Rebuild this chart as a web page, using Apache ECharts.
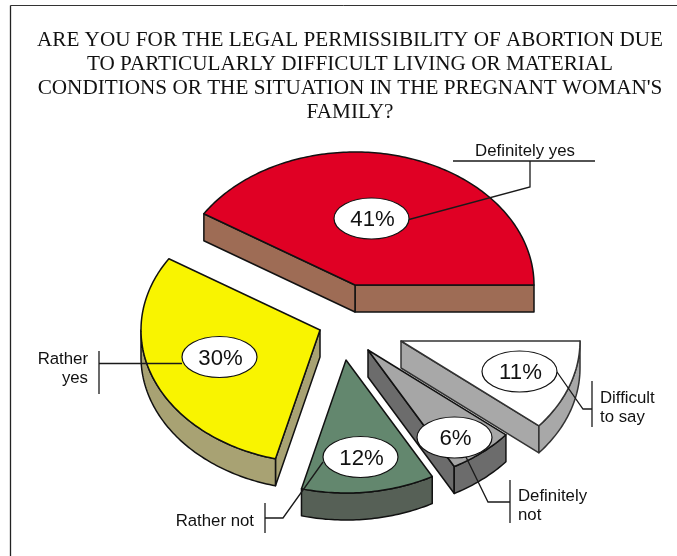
<!DOCTYPE html>
<html>
<head>
<meta charset="utf-8">
<style>html,body{margin:0;padding:0;background:#fff}#c{width:677px;height:556px}</style>
<script src="https://cdn.jsdelivr.net/npm/echarts@6/dist/echarts.min.js"></script>
</head>
<body>
<div id="c"></div>
<script>
// ---- data ----
var titleText = "ARE YOU FOR THE LEGAL PERMISSIBILITY OF ABORTION DUE\nTO PARTICULARLY DIFFICULT LIVING OR MATERIAL\nCONDITIONS OR THE SITUATION IN THE PREGNANT WOMAN'S\nFAMILY?";
var categories = ["Definitely yes", "Rather\nyes", "Rather not", "Definitely\nnot", "Difficult\nto say"];
var shares = [41, 30, 12, 6, 11];

// ---- presentation (positions, sizes, styles) ----
var topColors  = ["#e00024", "#f9f400", "#63876e", "#a6a6a6", "#ffffff"];
var sideColors = ["#9e6c55", "#a8a273", "#566056", "#6c6c6c", "#a8a8a8"];
var edgeColors = ["#111", "#111", "#111", "#111", "#333"];
var apex = [[355,285],[320,330],[346,360],[368,350],[401,341]];
var drawOrder = [1, 3, 5, 4, 2];
var RX = 179, RY = 133, DEPTH = 27;
var bubbles = [[371.5,218.5],[219.5,357],[360.5,457],[454.5,437.5],[519.5,371.5]];
var leaders = [
  [[453,161],[595,161]],
  [[99,351],[99,394]],
  [[265,503],[265,533]],
  [[510,480],[510,523]],
  [[592,381],[592,427]]
];
var connectors = [
  [[530,161],[530,187],[409,219.5]],
  [[99,363.5],[182,363.5]],
  [[265,518],[283,518],[323,462]],
  [[510,502],[488,502],[465,455]],
  [[592,409],[583,409],[557,372]]
];
var nameAnchors = [
  [525,151,"center"],
  [88,369,"right"],
  [254,521,"right"],
  [518,506,"left"],
  [600,408,"left"]
];

var total = shares.reduce(function(a,b){return a+b;},0);
function startAngle(i){
  var s = 0;
  for (var k=0;k<i;k++) s += shares[k];
  return s/total*360;
}
function pt(c,deg,dy){
  var a = deg*Math.PI/180;
  return [c[0]+RX*Math.cos(a), c[1]-RY*Math.sin(a)+(dy||0)];
}
function arcPts(c,a0,a1,dy){
  var out=[], n=Math.max(2,Math.ceil((a1-a0)));
  for (var i=0;i<=n;i++) out.push(pt(c,a0+(a1-a0)*i/n,dy));
  return out;
}
function renderSlice(params, api){
  var i = params.dataIndex;
  var a0 = startAngle(i), a1 = a0 + api.value(0)/total*360;
  var c = apex[i];
  var z = drawOrder[i]*10;
  var kids = [];
  var st = {fill:sideColors[i], stroke:edgeColors[i], lineWidth:1.5, lineJoin:'round'};
  function wall(deg){
    var p = pt(c,deg);
    kids.push({type:'polygon',z2:z,shape:{points:[c,p,[p[0],p[1]+DEPTH],[c[0],c[1]+DEPTH]]},style:st});
  }
  if (Math.cos(a0*Math.PI/180) > 0) wall(a0);
  if (Math.cos(a1*Math.PI/180) < 0) wall(a1);
  var lo = Math.max(a0,180), hi = Math.min(a1,360);
  if (hi > lo){
    var upper = arcPts(c,lo,hi,0), lower = arcPts(c,lo,hi,DEPTH).reverse();
    kids.push({type:'polygon',z2:z+1,shape:{points:upper.concat(lower)},style:st});
  }
  var top = [c].concat(arcPts(c,a0,a1,0));
  kids.push({type:'polygon',z2:z+2,shape:{points:top},
    style:{fill:topColors[i],stroke:edgeColors[i],lineWidth:1.5,lineJoin:'round'}});
  return {type:'group',children:kids};
}
function renderNote(params, api){
  var i = params.dataIndex;
  var b = bubbles[i], n = nameAnchors[i];
  var ls = {fill:null,stroke:'#1a1a1a',lineWidth:1.3};
  var kids = [
    {type:'polyline',shape:{points:leaders[i]},style:ls},
    {type:'polyline',shape:{points:connectors[i]},style:ls},
    {type:'ellipse',shape:{cx:b[0],cy:b[1],rx:37.5,ry:20.5},style:{fill:'#fff',stroke:'#111',lineWidth:1.2}},
    {type:'text',style:{x:b[0]+1,y:b[1]+1.5,text:api.value(0)+'%',fill:'#111',align:'center',verticalAlign:'middle',
      font:'22.2px "Liberation Sans", Arial, sans-serif'}},
    {type:'text',style:{x:n[0],y:n[1],text:categories[i],fill:'#111',align:n[2],verticalAlign:'middle',lineHeight:18.5,
      font:'16.8px "Liberation Sans", Arial, sans-serif'}}
  ];
  return {type:'group',children:kids};
}

var chart = echarts.init(document.getElementById('c'), null, {renderer:'canvas'});
chart.setOption({
  animation:false,
  backgroundColor:'#fff',
  title:{
    text:titleText, left:350, top:29, textAlign:'center', padding:0,
    textStyle:{fontFamily:'"Liberation Serif","Times New Roman",serif',fontWeight:'normal',fontSize:21.2,lineHeight:23.7,color:'#111'}
  },
  graphic:[
    {type:'line',shape:{x1:10.5,y1:5.5,x2:677,y2:5.5},style:{stroke:'#333',lineWidth:1},silent:true},
    {type:'line',shape:{x1:10.5,y1:5.5,x2:10.5,y2:556},style:{stroke:'#222',lineWidth:1.3},silent:true}
  ],
  series:[
    {type:'custom',coordinateSystem:'none',silent:true,z:2,renderItem:renderSlice,
      data:shares.map(function(v,i){return {name:categories[i],value:[v]};})},
    {type:'custom',coordinateSystem:'none',silent:true,z:3,renderItem:renderNote,
      data:shares.map(function(v,i){return {name:categories[i],value:[v]};})}
  ]
});
</script>
</body>
</html>
